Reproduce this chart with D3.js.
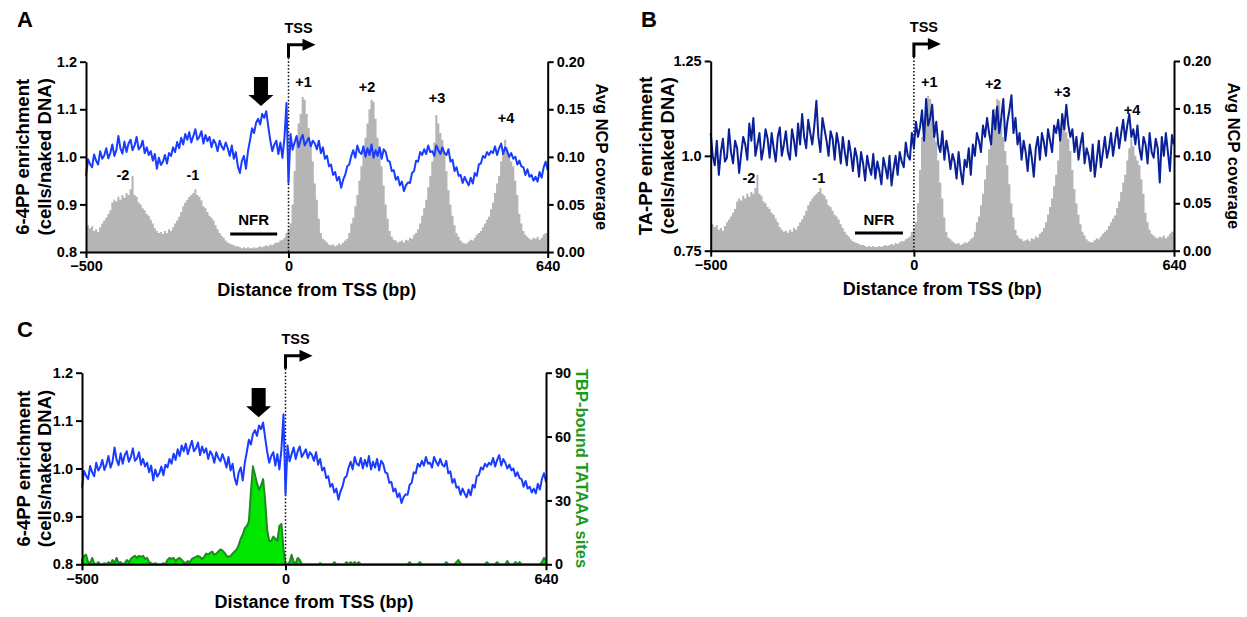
<!DOCTYPE html>
<html>
<head>
<meta charset="utf-8">
<title>6-4PP / TA-PP enrichment around TSS</title>
<script src="https://cdn.jsdelivr.net/npm/d3@7"></script>
<style>
  body { margin: 0; background: #fff; font-family: "Liberation Sans", Arial, sans-serif; }
  text { font-weight: bold; fill: #000; }
  .axis path, .axis line { stroke: #000; stroke-width: 2; }
  .axis text { font-size: 14.5px; font-weight: bold; font-family: "Liberation Sans", Arial, sans-serif; }
</style>
</head>
<body>
<svg id="fig" width="1247" height="617"></svg>
<script>
// distance from TSS (bp), one value every 5 bp
const bpStart = -500, bpEnd = 640, bpStep = 5;
const positions = d3.range(bpStart, bpEnd + 1, bpStep);
const xTicks = [-500, 0, 640];

// average NCP coverage (right axis of A and B)
const ncpCoverage = [
  0.030,0.028,0.025,0.027,0.022,0.024,0.021,0.026,0.030,0.033,
  0.036,0.040,0.044,0.052,0.055,0.053,0.058,0.055,0.060,0.057,
  0.062,0.060,0.066,0.080,0.060,0.058,0.052,0.050,0.046,0.044,
  0.040,0.038,0.034,0.030,0.025,0.022,0.020,0.021,0.019,0.022,
  0.020,0.024,0.022,0.026,0.030,0.033,0.037,0.042,0.048,0.052,
  0.055,0.058,0.060,0.062,0.066,0.060,0.058,0.054,0.048,0.046,
  0.042,0.038,0.036,0.033,0.028,0.024,0.020,0.017,0.015,0.012,
  0.010,0.009,0.008,0.007,0.006,0.006,0.005,0.004,0.005,0.004,
  0.005,0.004,0.004,0.005,0.004,0.005,0.006,0.005,0.006,0.007,
  0.006,0.008,0.007,0.009,0.010,0.010,0.012,0.013,0.015,0.020,
  0.023,0.030,0.050,0.085,0.120,0.135,0.145,0.163,0.160,0.145,
  0.130,0.115,0.095,0.072,0.055,0.035,0.020,0.014,0.012,0.010,
  0.008,0.007,0.008,0.006,0.007,0.009,0.008,0.010,0.012,0.014,
  0.020,0.030,0.036,0.048,0.060,0.075,0.090,0.107,0.120,0.135,
  0.150,0.160,0.158,0.140,0.120,0.105,0.090,0.070,0.050,0.035,
  0.022,0.016,0.013,0.012,0.010,0.011,0.012,0.010,0.013,0.012,
  0.015,0.014,0.018,0.020,0.024,0.030,0.038,0.046,0.055,0.068,
  0.080,0.095,0.115,0.144,0.135,0.125,0.118,0.105,0.085,0.065,
  0.050,0.038,0.028,0.020,0.016,0.012,0.010,0.009,0.009,0.011,
  0.013,0.012,0.015,0.018,0.020,0.022,0.026,0.030,0.034,0.037,
  0.045,0.052,0.062,0.072,0.080,0.095,0.108,0.118,0.110,0.100,
  0.095,0.090,0.075,0.060,0.040,0.030,0.022,0.018,0.016,0.014,
  0.013,0.015,0.014,0.016,0.013,0.015,0.018,0.020,0.020
];

// 6-4PP enrichment, cells / naked DNA (A and C)
const pp64 = [
  0.960,0.995,0.985,0.978,1.005,0.992,0.984,1.012,0.996,1.003,
  1.018,0.997,1.008,1.026,1.002,1.014,1.044,1.018,1.007,1.032,
  1.010,1.028,1.036,1.014,1.024,1.042,1.016,1.021,1.034,1.008,
  1.020,1.004,1.012,0.992,1.006,0.975,0.998,0.983,0.990,1.004,
  0.986,1.008,1.002,1.020,1.010,1.031,1.018,1.040,1.026,1.048,
  1.036,1.052,1.030,1.044,1.058,1.036,1.042,1.054,1.028,1.046,
  1.033,1.042,1.020,1.036,1.028,1.012,1.034,1.022,1.015,1.030,
  1.018,1.002,1.024,0.996,1.010,0.980,0.966,0.992,1.002,0.975,
  1.012,1.035,1.060,1.050,1.072,1.080,1.068,1.090,1.082,1.096,
  1.064,1.035,1.012,1.026,1.034,1.006,1.030,0.998,1.040,1.113,
  0.945,1.048,1.015,1.030,1.044,1.020,1.036,1.046,1.024,1.032,
  1.040,1.022,1.034,1.028,1.016,1.034,1.008,1.020,0.996,1.002,
  0.980,0.984,0.962,0.968,0.950,0.958,0.935,0.952,0.962,0.980,
  0.984,1.002,1.014,0.998,1.024,1.010,1.006,1.022,1.000,1.018,
  1.004,1.026,0.998,1.014,1.002,1.020,0.996,1.016,1.010,0.992,
  0.990,0.970,0.972,0.952,0.958,0.940,0.948,0.928,0.940,0.946,
  0.945,0.966,0.970,0.992,0.990,1.010,1.004,1.016,1.006,1.024,
  1.010,1.012,1.002,1.024,1.014,1.006,1.020,1.008,1.004,1.016,
  0.990,0.994,0.970,0.978,0.960,0.962,0.945,0.958,0.948,0.940,
  0.956,0.944,0.966,0.960,0.984,0.986,1.002,0.998,1.010,1.004,
  1.012,1.008,1.022,1.004,1.018,1.028,1.006,1.020,1.012,1.000,
  1.008,0.996,1.000,0.984,0.992,0.980,0.978,0.962,0.974,0.958,
  0.962,0.950,0.958,0.948,0.968,0.956,0.978,0.990,0.972
];

// TA-PP enrichment, cells / naked DNA (B)
const tapp = [
  1.060,1.000,0.975,1.040,0.950,1.010,1.045,0.985,0.995,1.070,
  1.010,0.980,1.040,1.020,0.955,1.005,1.050,1.030,0.990,1.085,
  1.040,1.100,1.000,1.030,1.060,0.990,1.020,1.070,1.045,0.995,
  1.060,1.020,0.985,1.050,1.075,1.000,1.030,1.065,1.010,0.990,
  1.070,1.040,1.000,1.085,1.030,1.110,1.050,1.020,1.095,1.060,
  1.030,1.080,1.145,1.050,1.010,1.100,1.070,1.040,1.000,1.065,
  1.045,0.990,1.060,1.030,0.980,1.050,1.010,0.975,1.040,1.005,
  0.960,1.020,0.995,0.945,1.010,0.980,0.935,1.000,0.970,0.950,
  1.005,0.940,0.985,0.960,0.925,0.995,0.970,0.940,1.000,0.922,
  0.965,1.000,0.950,1.010,0.985,0.970,1.035,1.000,0.990,1.060,
  1.020,1.090,1.050,1.075,1.120,1.040,1.150,1.080,1.100,1.135,
  1.050,1.090,1.030,1.010,1.065,0.990,1.040,1.010,0.965,1.005,
  0.985,0.940,1.010,0.960,0.925,0.990,0.970,1.020,0.950,1.030,
  1.000,1.060,1.040,1.010,1.080,1.050,1.100,1.060,1.030,1.120,
  1.070,1.130,1.060,1.100,1.150,1.040,1.090,1.120,1.160,1.060,
  1.100,1.030,1.060,0.990,1.040,1.010,0.960,1.030,0.995,0.945,
  1.020,1.050,0.990,1.060,1.035,1.000,1.070,1.040,1.010,1.080,
  1.060,1.095,1.040,1.110,1.070,1.135,1.080,1.050,1.070,1.010,
  1.050,0.990,1.030,1.060,0.980,1.020,1.000,0.960,1.030,0.945,
  0.990,1.040,0.970,1.010,1.050,0.995,1.020,1.060,1.000,1.040,
  1.075,1.020,1.060,1.095,1.040,1.080,1.110,1.050,1.070,1.030,
  1.080,1.020,0.990,1.050,1.030,0.980,1.060,1.010,0.995,1.045,
  1.020,0.930,1.050,1.000,1.060,1.010,0.960,1.055,1.030
];

// TBP-bound TATAAA sites (right axis of C)
const tbpSites = [
  2,4,4.5,1,0.5,3,0.5,0,1,0,
  0,0.5,0,1,0,2,0.5,3,0.5,1,
  0,0.5,2,1,2.5,3.5,4,3,4,3.5,
  4,2.5,3,1,0.5,0,0.5,0,0,0,
  0.5,0,2,3,2.5,3,1.5,2.5,3,2,
  1,0.5,1.5,1,2.5,3,3.5,4,3.5,2.5,
  3.5,5,4.5,5.5,6,4.5,5,6,7,6.5,
  5.5,4,3.5,4,5,6,7,9,12,14,
  17,18,20,34,46,42,38,35,37,40,
  30,16,11,11,13,12,11,18,19,7,
  0.5,0,1,4.5,1,0.5,3,2,0,0,
  0,0,0,0,0,0,0,0.5,0,0,
  0,0,0,0,1,0,0,0,0,0,
  1,0,1,0,1,0,1,0,0,0,
  0,0,0,0,0,0,0,0,0,0,
  0,0,0,0,0,0,0,0,0,0,
  0,1,0,0,0,0,1,0,0,0,
  0,0,0,0,0,0,0,0,0,1,
  0,0,0,0,1,2,0.5,0,0,0,
  0,0,0,0,0,0,0,0,0,1,
  0,0,0,0,1,0,0,0,0,1.5,
  0,0,0,1,0,1,0,0,0,0,
  0,0,0,0,0,0,1,3,2
];

const nucLabels = ["-2", "-1", "+1", "+2", "+3", "+4"];

const svg = d3.select("#fig");

const panels = [
  {
    letter: "A", letterX: 17, letterY: 27,
    x0: 86, x1: 547.7, yt: 61.7, yb: 252,
    leftDomain: [0.8, 1.2], leftTicks: [0.8, 0.9, 1.0, 1.1, 1.2], leftFmt: d3.format(".1f"),
    rightDomain: [0, 0.2], rightTicks: [0, 0.05, 0.1, 0.15, 0.2], rightFmt: d3.format(".2f"),
    line: pp64, lineColor: "#1a3cff",
    fill: ncpCoverage, fillColor: "#b5b5b5", fillStroke: null, curve: d3.curveStep,
    leftTitle: ["6-4PP enrichment", "(cells/naked DNA)"], leftTitleX: [29, 51],
    rightTitle: "Avg NCP coverage", rightTitleX: 596, rightColor: "#000",
    nucPos: [[-409, 0.076], [-236, 0.076], [37, 0.173], [194, 0.168], [367, 0.157], [537, 0.136]],
    nfr: [-144, -28, 0.019, 0.028], arrowBp: -68
  },
  {
    letter: "B", letterX: 641, letterY: 27,
    x0: 710.7, x1: 1174, yt: 61, yb: 250.7,
    leftDomain: [0.75, 1.25], leftTicks: [0.75, 1.0, 1.25], leftFmt: d => d === 1 ? "1.0" : d3.format(".2f")(d),
    rightDomain: [0, 0.2], rightTicks: [0, 0.05, 0.1, 0.15, 0.2], rightFmt: d3.format(".2f"),
    line: tapp, lineColor: "#0a2096",
    fill: ncpCoverage, fillColor: "#b5b5b5", fillStroke: null, curve: d3.curveStep,
    leftTitle: ["TA-PP enrichment", "(cells/naked DNA)"], leftTitleX: [652, 674],
    rightTitle: "Avg NCP coverage", rightTitleX: 1228, rightColor: "#000",
    nucPos: [[-406, 0.0714], [-234, 0.0714], [38, 0.173], [195, 0.170], [365, 0.162], [537, 0.143]],
    nfr: [-145, -27, 0.0187, 0.027], arrowBp: null
  },
  {
    letter: "C", letterX: 17, letterY: 337,
    x0: 82, x1: 546, yt: 372.7, yb: 564.3,
    leftDomain: [0.8, 1.2], leftTicks: [0.8, 0.9, 1.0, 1.1, 1.2], leftFmt: d3.format(".1f"),
    rightDomain: [0, 90], rightTicks: [0, 30, 60, 90], rightFmt: d3.format("d"),
    line: pp64, lineColor: "#1a3cff",
    fill: tbpSites, fillColor: "#00e600", fillStroke: "#1f8a1f", curve: d3.curveLinear,
    leftTitle: ["6-4PP enrichment", "(cells/naked DNA)"], leftTitleX: [30, 51],
    rightTitle: "TBP-bound TATAAA sites", rightTitleX: 576, rightColor: "#1c9a1c",
    nucPos: null, nfr: null, arrowBp: -66
  }
];

panels.forEach(p => {
  const g = svg.append("g");
  const x = d3.scaleLinear().domain([bpStart, bpEnd]).range([p.x0, p.x1]);
  const yL = d3.scaleLinear().domain(p.leftDomain).range([p.yb, p.yt]);
  const yR = d3.scaleLinear().domain(p.rightDomain).range([p.yb, p.yt]);

  // right-axis series as filled area
  const area = d3.area()
    .curve(p.curve)
    .x((d, i) => x(positions[i]))
    .y0(yR(0))
    .y1(d => yR(d));
  g.append("path")
    .datum(p.fill)
    .attr("d", area)
    .attr("fill", p.fillColor)
    .attr("stroke", p.fillStroke || "none")
    .attr("stroke-width", 2)
    .attr("stroke-linejoin", "round");

  // dotted TSS line
  g.append("line")
    .attr("x1", x(0)).attr("x2", x(0))
    .attr("y1", p.yt - 4).attr("y2", p.yb)
    .attr("stroke", "#000").attr("stroke-width", 1.5)
    .attr("stroke-dasharray", "1.5,2");

  // left-axis series as line
  const line = d3.line()
    .x((d, i) => x(positions[i]))
    .y(d => yL(d));
  g.append("path")
    .datum(p.line)
    .attr("d", line)
    .attr("fill", "none")
    .attr("stroke", p.lineColor)
    .attr("stroke-width", 2)
    .attr("stroke-linejoin", "round");

  // axes
  g.append("g").attr("class", "axis")
    .attr("transform", `translate(${p.x0},0)`)
    .call(d3.axisLeft(yL).tickValues(p.leftTicks).tickFormat(p.leftFmt).tickSize(6).tickSizeOuter(0).tickPadding(3));
  g.append("g").attr("class", "axis")
    .attr("transform", `translate(${p.x1},0)`)
    .call(d3.axisRight(yR).tickValues(p.rightTicks).tickFormat(p.rightFmt).tickSize(6).tickSizeOuter(0).tickPadding(3));
  g.append("g").attr("class", "axis")
    .attr("transform", `translate(0,${p.yb})`)
    .call(d3.axisBottom(x).tickValues(xTicks).tickFormat(d3.format("d")).tickSize(6).tickSizeOuter(0).tickPadding(3));

  // titles
  g.append("text")
    .attr("x", (p.x0 + p.x1) / 2).attr("y", p.yb + 44)
    .attr("text-anchor", "middle").attr("font-size", 18)
    .text("Distance from TSS (bp)");
  const ym = (p.yt + p.yb) / 2;
  p.leftTitle.forEach((t, i) => {
    g.append("text")
      .attr("transform", `translate(${p.leftTitleX[i]},${ym}) rotate(-90)`)
      .attr("text-anchor", "middle").attr("font-size", 18.5)
      .text(t);
  });
  g.append("text")
    .attr("transform", `translate(${p.rightTitleX},${ym}) rotate(90)`)
    .attr("text-anchor", "middle").attr("font-size", 16.5)
    .style("fill", p.rightColor)
    .text(p.rightTitle);

  // panel letter
  g.append("text")
    .attr("x", p.letterX).attr("y", p.letterY)
    .attr("font-size", 22)
    .text(p.letter);

  // TSS arrow
  const x0 = x(0);
  g.append("path")
    .attr("d", `M${x0},${p.yt - 4}V${p.yt - 17}H${x0 + 16}`)
    .attr("fill", "none").attr("stroke", "#000").attr("stroke-width", 3);
  g.append("path")
    .attr("d", `M${x0 + 14},${p.yt - 23}L${x0 + 27},${p.yt - 17}L${x0 + 14},${p.yt - 11}Z`)
    .attr("fill", "#000");
  g.append("text")
    .attr("x", x0 + 10).attr("y", p.yt - 29)
    .attr("text-anchor", "middle").attr("font-size", 14.5)
    .text("TSS");

  // nucleosome labels
  if (p.nucPos) {
    p.nucPos.forEach((pos, i) => {
      g.append("text")
        .attr("x", x(pos[0])).attr("y", yR(pos[1]))
        .attr("text-anchor", "middle").attr("font-size", 14.5)
        .text(nucLabels[i]);
    });
  }

  // NFR bar
  if (p.nfr) {
    g.append("line")
      .attr("x1", x(p.nfr[0])).attr("x2", x(p.nfr[1]))
      .attr("y1", yR(p.nfr[2])).attr("y2", yR(p.nfr[2]))
      .attr("stroke", "#000").attr("stroke-width", 3);
    g.append("text")
      .attr("x", x((p.nfr[0] + p.nfr[1]) / 2)).attr("y", yR(p.nfr[3]))
      .attr("text-anchor", "middle").attr("font-size", 15)
      .text("NFR");
  }

  // block arrow over the 6-4PP peak
  if (p.arrowBp !== null) {
    const cx = x(p.arrowBp), top = yL(1.168), mid = yL(1.13), tip = yL(1.107);
    g.append("path")
      .attr("d", `M${cx - 7},${top}H${cx + 7}V${mid}H${cx + 12.5}L${cx},${tip}L${cx - 12.5},${mid}H${cx - 7}Z`)
      .attr("fill", "#000");
  }
});
</script>
</body>
</html>
